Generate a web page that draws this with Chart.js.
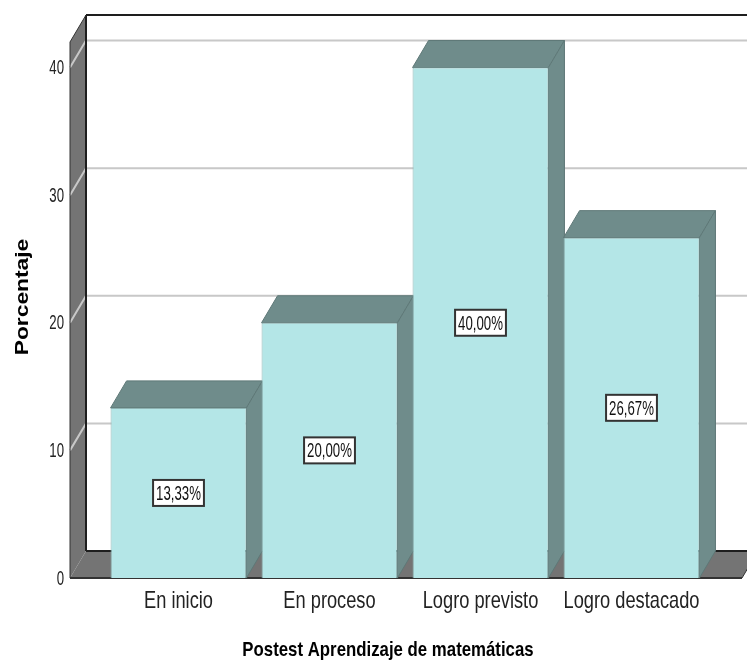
<!DOCTYPE html>
<html>
<head>
<meta charset="utf-8">
<script src="https://cdn.jsdelivr.net/npm/chart.js@4.4.0/dist/chart.umd.min.js"></script>
<style>
  body { margin: 0; background: #fff; }
</style>
</head>
<body>
<canvas id="myBarChart" width="747" height="666"></canvas>
<script>
// data
const categories = ['En inicio', 'En proceso', 'Logro previsto', 'Logro destacado'];
const percentages = [13.33, 20.00, 40.00, 26.67];
const yTicks = [0, 10, 20, 30, 40];
const yTitle = 'Porcentaje';
const xTitle = 'Postest Aprendizaje de matemáticas';

const sans = "'Liberation Sans', Arial, sans-serif";
const DX = 16, DY = -27; // depth of the 3d box (right / up)

function poly(ctx, pts) {
    ctx.beginPath();
    ctx.moveTo(pts[0][0], pts[0][1]);
    for (let i = 1; i < pts.length; i++) ctx.lineTo(pts[i][0], pts[i][1]);
    ctx.closePath();
}

function line(ctx, x1, y1, x2, y2) {
    ctx.beginPath();
    ctx.moveTo(x1, y1);
    ctx.lineTo(x2, y2);
    ctx.stroke();
}

// the original text is squeezed sideways, so draw it with a scale
function drawText(ctx, txt, x, y, font, sx, sy, align, rot) {
    ctx.save();
    ctx.translate(x, y);
    if (rot) ctx.rotate(rot);
    ctx.scale(sx, sy);
    ctx.font = font;
    ctx.textAlign = align;
    ctx.textBaseline = 'middle';
    ctx.fillText(txt, 0, 0);
    ctx.restore();
}

// walls, floor, gridlines, bar tops / sides, labels
const box3d = {
    id: 'box3d',
    beforeDatasetsDraw(chart) {
        const ctx = chart.ctx, a = chart.chartArea, y = chart.scales.y;
        const fx0 = a.left - 33, fx1 = a.right + 35;
        const base = y.getPixelForValue(0), top = y.getPixelForValue(y.max);
        ctx.save();

        // left wall + floor
        ctx.fillStyle = '#747474';
        poly(ctx, [[fx0, top], [fx0 + DX, top + DY], [fx0 + DX, base + DY], [fx0, base]]);
        ctx.fill();
        poly(ctx, [[fx0, base], [fx0 + DX, base + DY], [fx1 + DX, base + DY], [fx1, base]]);
        ctx.fill();

        // gridlines on the back wall
        ctx.strokeStyle = '#c8c8c8';
        ctx.lineWidth = 2;
        yTicks.forEach(v => {
            if (v === 0) return;
            const py = y.getPixelForValue(v);
            ctx.beginPath();
            ctx.moveTo(fx0, py);
            ctx.lineTo(fx0 + DX, py + DY);
            ctx.lineTo(chart.width, py + DY);
            ctx.stroke();
        });

        // edges
        ctx.strokeStyle = '#1e1e1e';
        ctx.lineWidth = 2;
        line(ctx, fx0 + DX, top + DY, chart.width, top + DY);
        line(ctx, fx0 + DX, top + DY, fx0 + DX, base + DY);
        line(ctx, fx0 + DX, base + DY, fx1 + DX, base + DY);
        ctx.lineWidth = 1;
        ctx.strokeStyle = '#333';
        line(ctx, fx0, top, fx0 + DX, top + DY);
        line(ctx, fx0, top, fx0, base);
        ctx.lineWidth = 2;
        line(ctx, fx0, base, fx1, base);
        ctx.lineWidth = 1;
        line(ctx, fx1, base, fx1 + DX, base + DY);

        // bar tops and right sides
        const bars = chart.getDatasetMeta(0).data;
        ctx.fillStyle = '#6f8c8b';
        ctx.strokeStyle = '#5e7877';
        ctx.lineWidth = 1;
        bars.forEach(b => {
            const l = b.x - b.width / 2, r = b.x + b.width / 2;
            poly(ctx, [[l, b.y], [l + DX, b.y + DY], [r + DX, b.y + DY], [r, b.y]]);
            ctx.fill(); ctx.stroke();
            poly(ctx, [[r, b.y], [r + DX, b.y + DY], [r + DX, b.base + DY], [r, b.base]]);
            ctx.fill(); ctx.stroke();
        });
        ctx.restore();
    },
    afterDatasetsDraw(chart) {
        const ctx = chart.ctx;
        const bars = chart.getDatasetMeta(0).data;
        ctx.save();
        bars.forEach((b, i) => {
            const txt = percentages[i].toFixed(2).replace('.', ',') + '%';
            ctx.font = '21px ' + sans;
            const w = ctx.measureText(txt).width * 0.63 + 6, h = 26;
            const cy = (b.y + b.base) / 2;
            ctx.fillStyle = '#fff';
            ctx.fillRect(b.x - w / 2, cy - h / 2, w, h);
            ctx.strokeStyle = '#333';
            ctx.lineWidth = 2;
            ctx.strokeRect(b.x - w / 2, cy - h / 2, w, h);
            ctx.fillStyle = '#111';
            drawText(ctx, txt, b.x, cy + 1, '21px ' + sans, 0.63, 1, 'center');
        });
        ctx.restore();
    },
    afterDraw(chart) {
        const ctx = chart.ctx, x = chart.scales.x, y = chart.scales.y;
        ctx.save();
        // tick labels
        ctx.fillStyle = '#222';
        yTicks.forEach(v => {
            drawText(ctx, String(v), 64, y.getPixelForValue(v) + 1, '20px ' + sans, 0.66, 1, 'right');
        });
        categories.forEach((c, i) => {
            drawText(ctx, c, x.getPixelForValue(i), 601, '24px ' + sans, 0.76, 1, 'center');
        });
        // axis titles
        ctx.fillStyle = '#000';
        drawText(ctx, xTitle, 388, 650, 'bold 21px ' + sans, 0.8, 1, 'center');
        drawText(ctx, yTitle, 23, 297, 'bold 19px ' + sans, 1.2, 1, 'center', -Math.PI / 2);
        ctx.restore();
    }
};

const ctx = document.getElementById('myBarChart').getContext('2d');
new Chart(ctx, {
    type: 'bar',
    data: {
        labels: categories,
        datasets: [{
            data: percentages,
            backgroundColor: '#b4e6e7',
            borderColor: '#8fb3b3',
            borderWidth: 1,
            barPercentage: 0.9,
            categoryPercentage: 1.0
        }]
    },
    options: {
        responsive: false,
        animation: false,
        layout: { padding: { top: 42, right: 40, left: 0, bottom: 0 } },
        plugins: { legend: { display: false }, tooltip: { enabled: false } },
        scales: {
            x: {
                grid: { display: false, drawTicks: false },
                border: { display: false },
                ticks: { display: false },
                afterFit: s => { s.height = 88; }
            },
            y: {
                min: 0,
                max: 42,
                grid: { display: false, drawTicks: false },
                border: { display: false },
                ticks: { display: false, stepSize: 10 },
                afterFit: s => { s.width = 103; }
            }
        }
    },
    plugins: [box3d]
});
</script>
</body>
</html>
